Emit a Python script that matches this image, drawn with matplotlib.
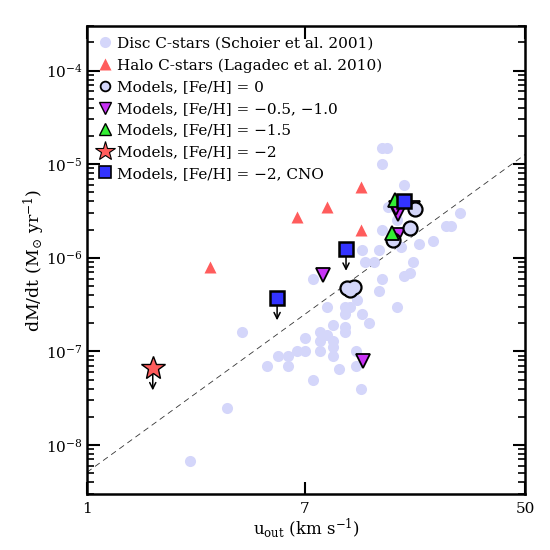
import matplotlib
matplotlib.use("Agg")
import matplotlib.pyplot as plt
from matplotlib.lines import Line2D
from matplotlib.ticker import FixedLocator, NullLocator, LogLocator

# Disc C-stars (Schoier et al. 2001)
disc_u = [13.9, 14.6, 13.9, 17.0, 14.7, 15.9, 13.9, 28.0, 24.7, 25.8,
          22.0, 19.4, 16.5, 11.6, 13.5, 12.0, 13.0, 18.4, 17.0, 17.9,
          7.5, 13.9, 13.5, 11.1, 8.5, 10.0, 10.5, 15.9, 10.0, 11.6,
          12.4, 9.0, 10.0, 10.0, 8.0, 8.5, 7.0, 8.0, 9.0, 9.0,
          6.5, 7.0, 8.0, 9.0, 11.0, 11.0, 9.5, 7.5, 11.5, 4.0,
          5.5, 6.0, 5.0, 6.0, 3.5, 2.5, 10.5]
disc_mdot = [1.5e-5, 1.5e-5, 1.0e-5, 6.0e-6, 3.5e-6, 2.5e-6, 2.0e-6, 3.0e-6, 2.2e-6, 2.2e-6,
             1.5e-6, 1.4e-6, 1.3e-6, 1.2e-6, 1.2e-6, 9.1e-7, 9.1e-7, 9.1e-7, 6.4e-7, 6.9e-7,
             6.0e-7, 6.0e-7, 4.4e-7, 3.5e-7, 3.0e-7, 3.0e-7, 3.0e-7, 3.0e-7, 2.5e-7, 2.5e-7,
             2.0e-7, 1.9e-7, 1.8e-7, 1.6e-7, 1.6e-7, 1.5e-7, 1.4e-7, 1.3e-7, 1.3e-7, 1.1e-7,
             1.0e-7, 1.0e-7, 1.0e-7, 9.0e-8, 1.0e-7, 7.0e-8, 6.5e-8, 5.0e-8, 4.0e-8, 1.6e-7,
             9.0e-8, 9.0e-8, 7.0e-8, 7.0e-8, 2.5e-8, 6.7e-9, 4.6e-7]

# Halo C-stars (Lagadec et al. 2010)
halo_u = [11.5, 8.5, 6.5, 11.5, 3.0]
halo_mdot = [5.7e-6, 3.5e-6, 2.7e-6, 1.96e-6, 7.9e-7]

# Models
m0_u = [18.7, 17.9, 15.4, 10.2, 10.8, 10.5]
m0_mdot = [3.3e-6, 2.06e-6, 1.56e-6, 4.8e-7, 4.9e-7, 4.5e-7]
m05_u = [8.2, 11.8, 16.0, 15.8, 18.4, 16.0]
m05_mdot = [6.6e-7, 7.9e-8, 2.9e-6, 3.4e-6, 3.4e-6, 1.76e-6]
m15_u = [15.7, 15.2]
m15_mdot = [4.1e-6, 1.84e-6]
m2_u = [1.8]
m2_mdot = [6.6e-8]
m2cno_u = [5.46, 10.1, 17.0]
m2cno_mdot = [3.7e-7, 1.25e-6, 4.07e-6]
upper_limit_u = [1.8, 5.46, 10.1]
upper_limit_mdot = [6.6e-8, 3.7e-7, 1.25e-6]

# dashed reference line
line_u = [1.0, 50.0]
line_mdot = [5.1e-9, 1.27e-5]

labels = ["Disc C-stars (Schoier et al. 2001)",
          "Halo C-stars (Lagadec et al. 2010)",
          "Models, [Fe/H] = 0",
          "Models, [Fe/H] = \u22120.5, \u22121.0",
          "Models, [Fe/H] = \u22121.5",
          "Models, [Fe/H] = \u22122",
          "Models, [Fe/H] = \u22122, CNO"]

disc_c = "#d4d6fa"
halo_c = "#ff5c5c"
mag_c = "#c833f5"
green_c = "#33ee33"
blue_c = "#3333ff"

plt.rcParams["font.family"] = "DejaVu Serif"
plt.rcParams["mathtext.fontset"] = "dejavuserif"
plt.rcParams["font.size"] = 11

fig = plt.figure(figsize=(5.5, 5.5), dpi=100)
ax = fig.add_axes([0.158, 0.102, 0.797, 0.851])
ax.set_xscale("log")
ax.set_yscale("log")

ax.plot(line_u, line_mdot, ls=(0, (7, 5)), color="#333333", lw=0.6, zorder=1)

ax.plot(disc_u, disc_mdot, ls="none", marker="o", ms=8, mfc=disc_c, mec="none", zorder=2)
ax.plot(halo_u, halo_mdot, ls="none", marker="^", ms=9, mfc=halo_c, mec="none", zorder=2)

for u, m in zip(upper_limit_u, upper_limit_mdot):
    ax.annotate("", xy=(u, m * 0.58), xytext=(u, m),
                arrowprops=dict(arrowstyle="->", color="k", lw=1.1, shrinkA=0, shrinkB=0,
                                mutation_scale=11), zorder=3)

ax.plot(m05_u, m05_mdot, ls="none", marker="v", ms=10, mfc=mag_c, mec="k", mew=1.3, zorder=4)
ax.plot(m0_u, m0_mdot, ls="none", marker="o", ms=8.5, mfc="none", mec="k", mew=3.2, zorder=5)
ax.plot(m0_u, m0_mdot, ls="none", marker="o", ms=8.5, mfc=disc_c, mec="none", zorder=5.1)
ax.plot(m15_u, m15_mdot, ls="none", marker="^", ms=10, mfc=green_c, mec="k", mew=1.3, zorder=6)
ax.plot(m2cno_u, m2cno_mdot, ls="none", marker="s", ms=10, mfc=blue_c, mec="k", mew=1.8, zorder=7)
ax.plot(m2_u, m2_mdot, ls="none", marker="*", ms=18, mfc=halo_c, mec="k", mew=1.0, zorder=7)

ax.set_xlim(1, 50)
ax.set_ylim(3e-9, 3e-4)
ax.xaxis.set_major_locator(FixedLocator([1, 7, 50]))
ax.xaxis.set_minor_locator(NullLocator())
ax.set_xticklabels(["1", "7", "50"])
ax.yaxis.set_major_locator(LogLocator(base=10, numticks=20))
ax.yaxis.set_minor_locator(LogLocator(base=10, subs=range(2, 10), numticks=20))

ax.tick_params(which="both", direction="in", top=True, right=True, labelsize=11)
ax.tick_params(which="major", length=9, width=1.5)
ax.tick_params(axis="y", which="major", pad=3)
ax.tick_params(axis="x", which="major", pad=6)
ax.tick_params(which="minor", length=5, width=1.2)
ax.tick_params(axis="y", which="minor", labelleft=False)
for s in ax.spines.values():
    s.set_linewidth(1.8)

ax.set_xlabel("u$_{\\rm out}$ (km s$^{-1}$)", fontsize=12, labelpad=0)
ax.set_ylabel("dM/dt (M$_{\\odot}$ yr$^{-1}$)", fontsize=12.5, labelpad=-1)

handles = [
    Line2D([], [], ls="none", marker="o", ms=8, mfc=disc_c, mec="none"),
    Line2D([], [], ls="none", marker="^", ms=9, mfc=halo_c, mec="none"),
    Line2D([], [], ls="none", marker="o", ms=7, mfc=disc_c, mec="k", mew=1.3),
    Line2D([], [], ls="none", marker="v", ms=8, mfc=mag_c, mec="k", mew=1.0),
    Line2D([], [], ls="none", marker="^", ms=8, mfc=green_c, mec="k", mew=1.0),
    Line2D([], [], ls="none", marker="*", ms=15, mfc=halo_c, mec="k", mew=0.8),
    Line2D([], [], ls="none", marker="s", ms=8, mfc=blue_c, mec="k", mew=1.2),
]
ax.legend(handles, labels, loc="upper left", frameon=False, fontsize=11,
          handlelength=1.0, handletextpad=0.25, labelspacing=0.5,
          borderaxespad=0.4, borderpad=0.3)

fig.savefig("out.png", dpi=100)
